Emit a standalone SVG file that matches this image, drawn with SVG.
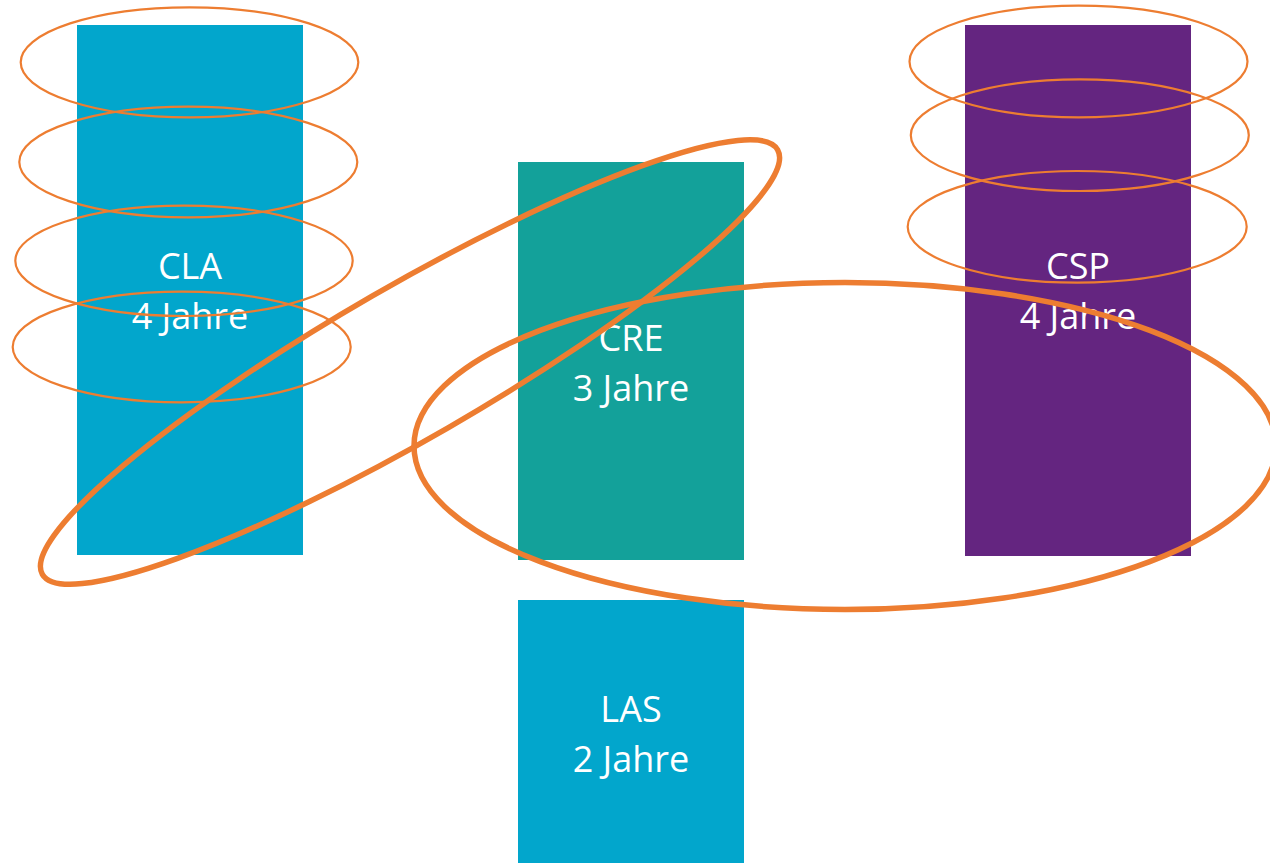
<svg xmlns="http://www.w3.org/2000/svg" width="1270" height="863" viewBox="0 0 1270 863">
<style>
.lbl{font-family:"Open Sans","Liberation Sans",sans-serif;font-size:36px;fill:#ffffff;text-anchor:middle}
.thin{fill:none;stroke:#ED7D31;stroke-width:2.2}
.thick{fill:none;stroke:#ED7D31;stroke-width:5.5}
</style>
<rect width="1270" height="863" fill="#ffffff"/>
<g id="CLA">
<rect x="77" y="25" width="226" height="530" fill="#02A6CC"/>
<text class="lbl" x="190" y="279">CLA</text>
<text class="lbl" x="190" y="329">4 Jahre</text>
</g>
<g id="CRE">
<rect x="518" y="162" width="226" height="398" fill="#13A19A"/>
<text class="lbl" x="631" y="351">CRE</text>
<text class="lbl" x="631" y="401">3 Jahre</text>
</g>
<g id="CSP">
<rect x="965" y="25" width="226" height="531" fill="#642580"/>
<text class="lbl" x="1078" y="279">CSP</text>
<text class="lbl" x="1078" y="329">4 Jahre</text>
</g>
<g id="LAS">
<rect x="518" y="600" width="226" height="263" fill="#02A6CC"/>
<text class="lbl" x="631" y="722">LAS</text>
<text class="lbl" x="631" y="772">2 Jahre</text>
</g>
<g id="connectors">
<ellipse class="thin" cx="189.5" cy="62.3" rx="168.8" ry="55"/>
<ellipse class="thin" cx="188.3" cy="162" rx="169" ry="55.3"/>
<ellipse class="thin" cx="184" cy="260.8" rx="168.7" ry="55.2"/>
<ellipse class="thin" cx="181.7" cy="347" rx="169" ry="55.3"/>
<ellipse class="thin" cx="1078.5" cy="61.5" rx="169" ry="55.8"/>
<ellipse class="thin" cx="1079.8" cy="135.2" rx="169" ry="55.8"/>
<ellipse class="thin" cx="1077.2" cy="226.8" rx="169.5" ry="55.8"/>
<ellipse class="thick" cx="410" cy="362" rx="424.5" ry="76" transform="rotate(-30 410 362)"/>
<ellipse class="thick" cx="845" cy="446" rx="431" ry="163.5"/>
</g>
</svg>
